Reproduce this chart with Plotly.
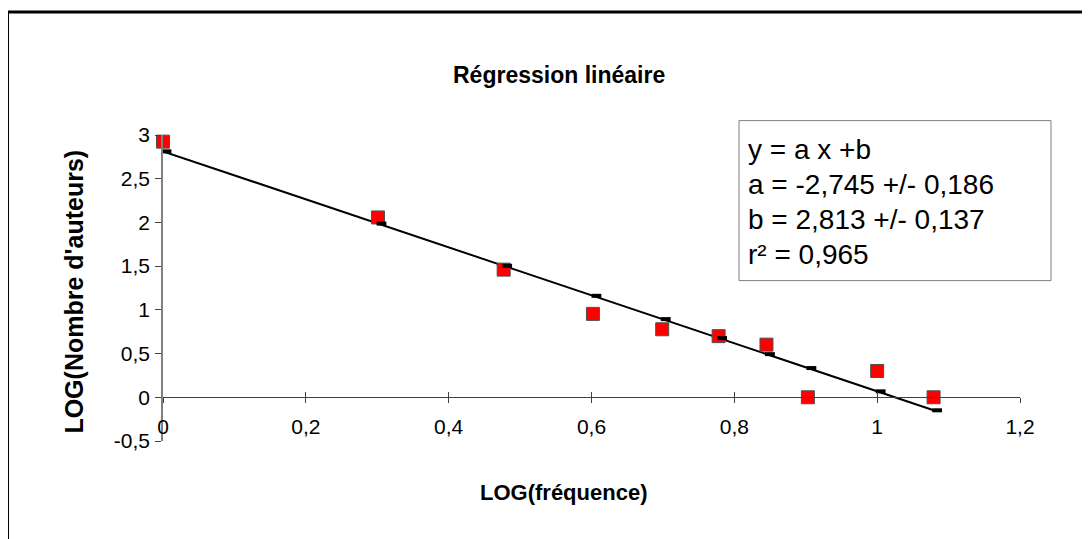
import plotly.graph_objects as go

# Data
log_freq = [0.0, 0.301, 0.477, 0.602, 0.699, 0.778, 0.845, 0.903, 1.0, 1.079]
log_auteurs = [2.924, 2.057, 1.46, 0.954, 0.778, 0.699, 0.602, 0.0, 0.301, 0.0]
slope_a = -2.745
intercept_b = 2.813
x_ticks = [0, 0.2, 0.4, 0.6, 0.8, 1.0, 1.2]
x_ticktext = ["0", "0,2", "0,4", "0,6", "0,8", "1", "1,2"]
y_ticks = [-0.5, 0, 0.5, 1, 1.5, 2, 2.5, 3]
y_ticktext = ["-0,5", "0", "0,5", "1", "1,5", "2", "2,5", "3"]
fit_text = ["y = a x +b", "a = -2,745 +/- 0,186", "b = 2,813 +/- 0,137", "r² = 0,965"]

fitted = [slope_a * x + intercept_b for x in log_freq]

FONT = "Arial, Liberation Sans, Helvetica, sans-serif"
XR = [0, 1.2]
YR = [-0.5, 3]

# screen-pixel helpers (plot area: x 163..1020, y 135.4..441.4 on screen)
PX0, PW, PY1, PH = 163.0, 857.0, 441.4, 306.0
def px(xp):
    return (xp - PX0) / PW
def py(yp):
    return (PY1 - yp) / PH

dash_shift = 3.5 / PW * (XR[1] - XR[0])

fig = go.Figure()
fig.add_trace(go.Scatter(
    x=log_freq, y=fitted, mode="lines",
    line=dict(color="black", width=2), cliponaxis=False,
    showlegend=False, hoverinfo="skip"))
fig.add_trace(go.Scatter(
    x=log_freq, y=fitted, mode="markers", xaxis="x3", cliponaxis=False,
    marker=dict(symbol="line-ew", size=7, line=dict(color="black", width=4)),
    showlegend=False, hoverinfo="skip"))
fig.add_trace(go.Scatter(
    x=log_freq, y=log_auteurs, mode="markers", cliponaxis=False,
    marker=dict(symbol="square", size=13, color="#FF0000",
                line=dict(color="#505050", width=1)),
    showlegend=False))
fig.add_trace(go.Scatter(x=[XR[0]], y=[YR[0]], xaxis="x2", mode="markers",
                         marker=dict(opacity=0), showlegend=False, hoverinfo="skip"))

axis_pos = (0 - YR[0]) / (YR[1] - YR[0])

fig.update_layout(
    width=1090, height=539,
    margin=dict(l=155, r=78, t=127, b=106),
    paper_bgcolor="white", plot_bgcolor="white",
    font=dict(family=FONT, color="black", size=21),
    xaxis=dict(range=XR, anchor="free", position=axis_pos,
               showline=True, linecolor="#404040", linewidth=1,
               ticks="outside", ticklen=5, tickcolor="#404040", tickwidth=1,
               tickvals=x_ticks, ticktext=x_ticktext, ticklabelstandoff=6,
               showgrid=False, zeroline=False, tickfont=dict(size=21)),
    xaxis2=dict(range=XR, overlaying="x", anchor="free", position=axis_pos,
                showline=False, ticks="inside", ticklen=5, tickcolor="#404040",
                tickwidth=1, tickvals=x_ticks, showticklabels=False,
                showgrid=False, zeroline=False),
    xaxis3=dict(range=[XR[0] - dash_shift, XR[1] - dash_shift], overlaying="x",
                anchor="free", position=axis_pos, visible=False),
    yaxis=dict(range=YR, domain=[0, 1], showline=True, linecolor="#808080",
               linewidth=1.5, ticks="outside", ticklen=6, tickcolor="#404040",
               tickvals=y_ticks, ticktext=y_ticktext, ticklabelstandoff=1,
               showgrid=False, zeroline=False, tickfont=dict(size=21)),
)

# outer chart frame (top/left visible)
fig.add_shape(type="rect", xref="paper", yref="paper",
              x0=px(7.5), x1=1.25, y0=-0.5, y1=py(12.5),
              line=dict(color="black", width=3), fillcolor="rgba(0,0,0,0)", layer="above")

# regression info box
fig.add_shape(type="rect", xref="paper", yref="paper",
              x0=px(739), x1=px(1051), y0=py(281), y1=py(121),
              line=dict(color="#808080", width=1), fillcolor="white", layer="above")
for line_txt, yc in zip(fit_text, [150, 185, 220, 255]):
    fig.add_annotation(text=line_txt, xref="paper", yref="paper",
                       x=px(746), y=py(yc), showarrow=False,
                       xanchor="left", yanchor="middle", align="left",
                       font=dict(size=28))

fig.add_annotation(text="<b>Régression linéaire</b>", xref="paper", yref="paper",
                   x=px(559), y=py(75), showarrow=False,
                   font=dict(size=23), xanchor="center", yanchor="middle")
fig.add_annotation(text="<b>LOG(fréquence)</b>", xref="paper", yref="paper",
                   x=px(563), y=py(493), showarrow=False,
                   font=dict(size=22), xanchor="center", yanchor="middle")
fig.add_annotation(text="<b>LOG(Nombre d'auteurs)</b>", xref="paper", yref="paper",
                   x=px(74), y=py(292), showarrow=False,
                   textangle=-90, font=dict(size=25), xanchor="center", yanchor="middle")

fig.write_html("out.html")
